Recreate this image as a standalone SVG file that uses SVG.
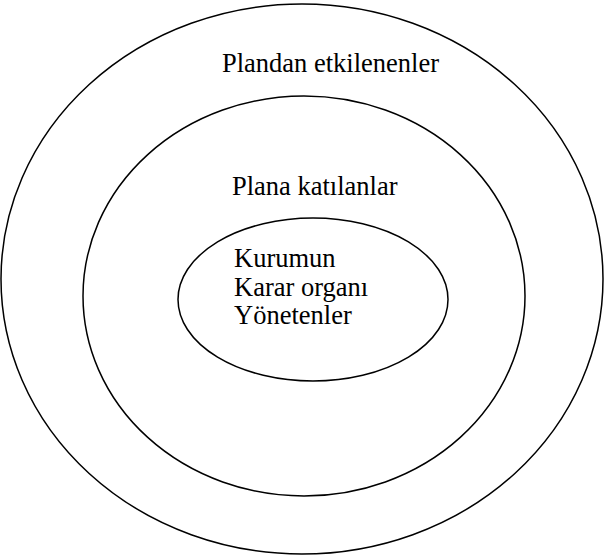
<svg xmlns="http://www.w3.org/2000/svg" width="605" height="557" viewBox="0 0 605 557">
  <style>
    .ring { fill: none; stroke: #000; stroke-width: 1.5; }
    .lbl { font-family: "Liberation Serif", "Times New Roman", serif; font-size: 26.5px; fill: #000; }
  </style>
  <rect width="605" height="557" fill="#fff"/>
  <g id="affected">
    <ellipse class="ring" cx="302" cy="279" rx="301" ry="275"/>
    <text class="lbl" x="222" y="72">Plandan etkilenenler</text>
  </g>
  <g id="participants">
    <ellipse class="ring" cx="304" cy="296" rx="221" ry="200"/>
    <text class="lbl" x="232" y="195">Plana katılanlar</text>
  </g>
  <g id="core">
    <ellipse class="ring" cx="313" cy="299.5" rx="135" ry="81.5"/>
    <text class="lbl" x="234" y="267">Kurumun</text>
    <text class="lbl" x="234" y="296">Karar organı</text>
    <text class="lbl" x="234" y="324">Yönetenler</text>
  </g>
  <g id="connectors"/>
</svg>
